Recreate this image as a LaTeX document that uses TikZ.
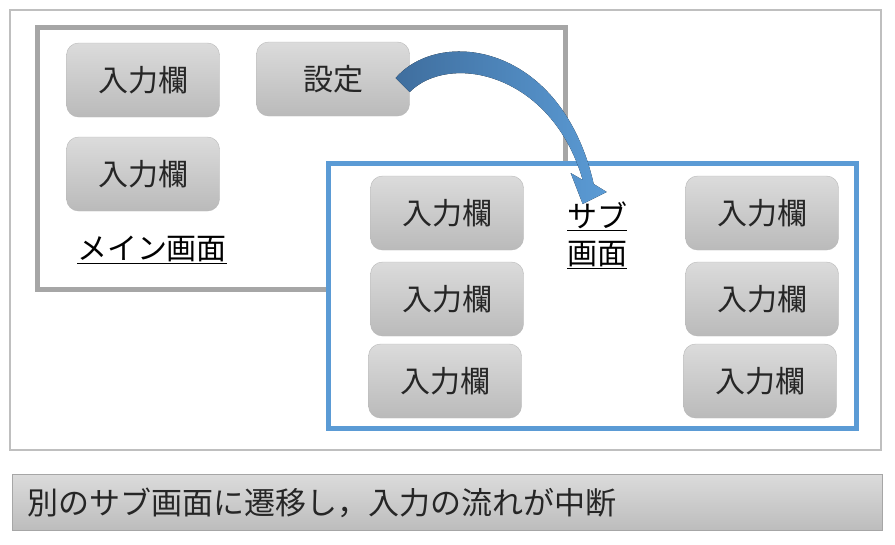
\documentclass[tikz,border=0pt]{standalone}
\usepackage{fontspec}
\setmainfont{Noto Sans CJK JP}
\definecolor{framegray}{HTML}{A6A6A6}
\definecolor{subblue}{HTML}{5B9BD5}
\definecolor{arrowdark}{HTML}{3F6E9E}
\definecolor{txtgray}{HTML}{262626}
\tikzset{
  fld/.style={rounded corners=12pt, draw=black!28, top color=black!14, bottom color=black!27,
    minimum width=153pt, minimum height=74pt, text=txtgray, font=\fontsize{30}{32}\selectfont},
  caption/.style={font=\fontsize{30}{37}\selectfont, text=black}
}

\begin{document}
\begin{tikzpicture}[x=1pt, y=-1pt]
    \useasboundingbox (0,0) rectangle (895,544);

    % 外枠
    \draw[black!25, line width=1.5pt] (10,10) rectangle (881,450);

    % メイン画面
    \draw[framegray, line width=5pt] (37,27) rectangle (565,289);
    \node[fld] (in1) at (143,80) {入力欄};
    \node[fld] (set) at (333,79) {設定};
    \node[fld] (in2) at (143,174) {入力欄};
    \node[caption] (mainlbl) at (152,250) {\underline{メイン画面}};

    % サブ画面
    \draw[subblue, line width=5pt, fill=white] (328,163) rectangle (856,428);
    \node[fld] (sa1) at (447,213) {入力欄};
    \node[fld] (sa2) at (447,299) {入力欄};
    \node[fld] (sa3) at (445,381) {入力欄};
    \node[fld] (sb1) at (762,213) {入力欄};
    \node[fld] (sb2) at (762,299) {入力欄};
    \node[fld] (sb3) at (760,381) {入力欄};
    \node[caption, align=center] (sublbl) at (597,235) {\underline{サブ}\\\underline{画面}};

    % 遷移の矢印
    \begin{scope}[shift={(set.east)}]
        \fill[left color=arrowdark, right color=subblue]
            (-14,-1) .. controls (30,-52) and (152,-36) .. (184,105)
            -- (197,113) -- (173,125) -- (161,94) -- (173,101)
            .. controls (142,-6) and (40,-27) .. (0,13) -- cycle;
    \end{scope}

    % 説明
    \draw[black!35, line width=1pt, top color=black!14, bottom color=black!26] (12,474) rectangle (882,530);
    \node[caption, anchor=west, text=txtgray, font=\fontsize{31}{36}\selectfont] (note) at (24,503) {別のサブ画面に遷移し，入力の流れが中断};
\end{tikzpicture}
\end{document}
